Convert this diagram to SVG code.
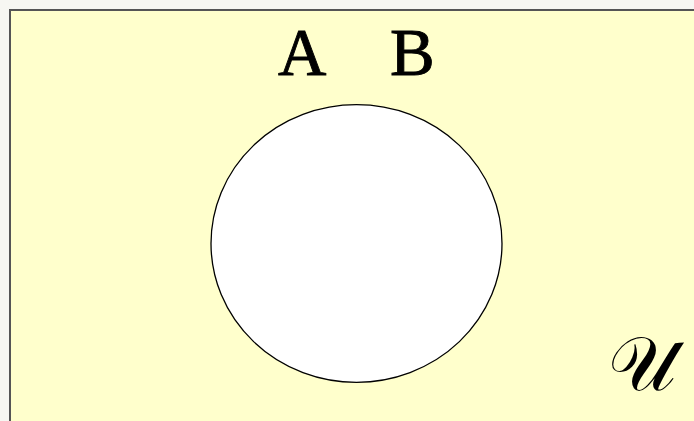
<svg xmlns="http://www.w3.org/2000/svg" width="694" height="421" viewBox="0 0 694 421">
<style>
.lbl{font-family:"Liberation Serif","Times New Roman",serif;font-size:67px;fill:#000;stroke:#000;stroke-width:0.9}
.uni{font-family:"DejaVu Serif","Noto Sans",serif;font-size:76px;fill:#000}
</style>
<rect x="0" y="0" width="694" height="421" fill="#f7f7f2"/>
<g id="universe">
<rect x="10" y="10" width="700" height="430" fill="#ffffcc" stroke="#555" stroke-width="2"/>
<text class="uni" x="608" y="390">𝒰</text>
</g>
<g id="set-AB">
<ellipse cx="356.5" cy="243.5" rx="145.5" ry="138.8" fill="#fff" stroke="#000" stroke-width="1.3"/>
</g>
<g id="labels">
<text class="lbl" x="278" y="75">A</text>
<text class="lbl" x="390" y="75">B</text>
</g>
<g id="connectors"/>
</svg>
